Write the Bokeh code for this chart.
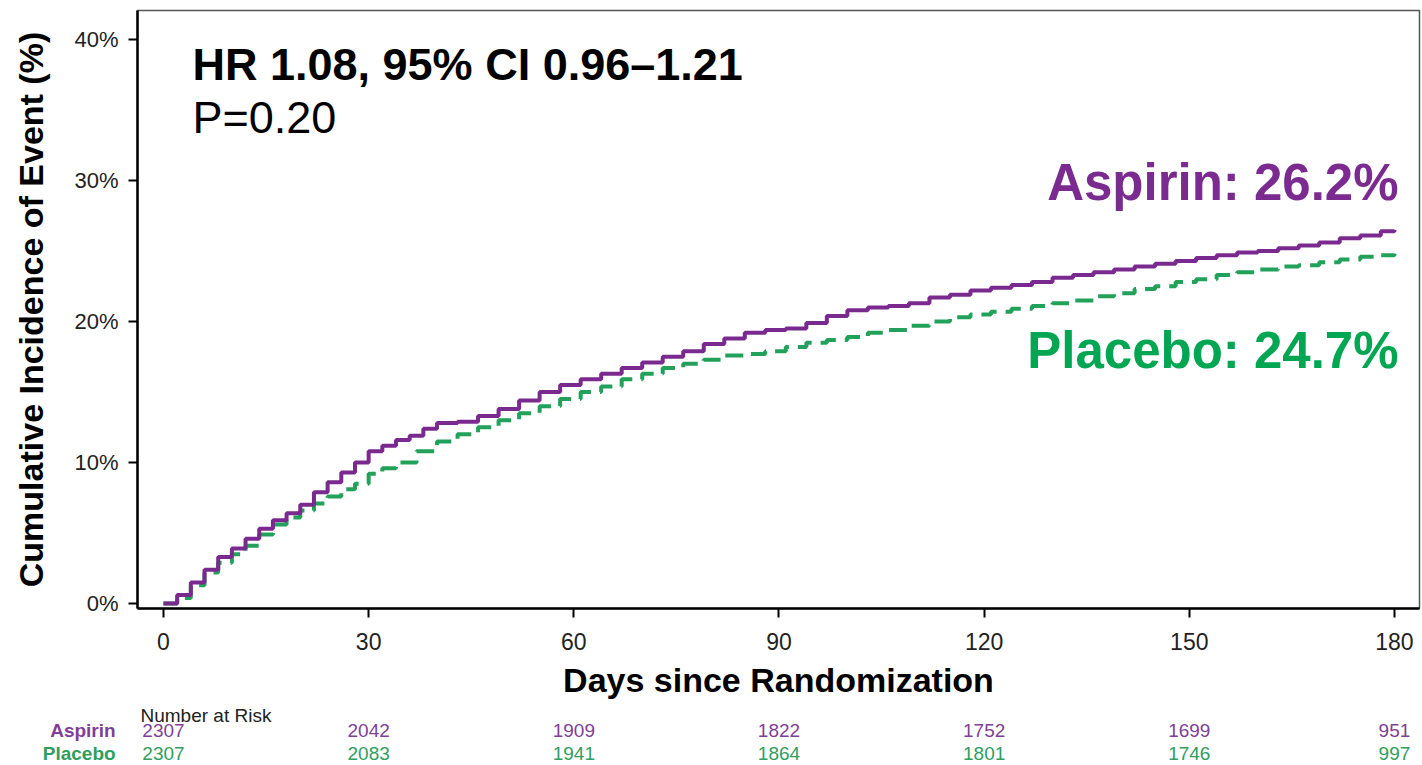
from bokeh.plotting import figure
from bokeh.layouts import column
from bokeh.models import Range1d, FixedTicker, PrintfTickFormatter, Label, ColumnDataSource
from bokeh.core.properties import value
from bokeh.embed import file_html
from bokeh.resources import INLINE

# ---------------- data ----------------
days_aspirin = [0, 2, 4, 6, 8, 10, 12, 14, 16, 18, 20, 22, 24, 26, 28, 30, 32, 34, 36, 38, 40,
                43, 46, 49, 52, 55, 58, 61, 64, 67, 70, 73, 76, 79, 82, 85, 88, 91, 94, 97,
                100, 103, 106, 109, 112, 115, 118, 121, 124, 127, 130, 133, 136, 139, 142,
                145, 148, 151, 154, 157, 160, 163, 166, 169, 172, 175, 178, 180]
inc_aspirin = [0.0, 0.6, 1.5, 2.4, 3.3, 3.9, 4.6, 5.3, 5.9, 6.4, 7.0, 7.9, 8.6, 9.3, 10.0, 10.8,
               11.2, 11.6, 11.9, 12.4, 12.8, 12.9, 13.3, 13.8, 14.4, 15.0, 15.5, 15.9, 16.3,
               16.7, 17.1, 17.5, 17.9, 18.4, 18.8, 19.2, 19.4, 19.5, 19.9, 20.4, 20.8, 21.0,
               21.1, 21.3, 21.7, 21.9, 22.2, 22.4, 22.6, 22.8, 23.1, 23.3, 23.5, 23.7, 23.9,
               24.1, 24.3, 24.5, 24.7, 24.9, 25.0, 25.2, 25.4, 25.6, 25.9, 26.1, 26.4, 26.5]

days_placebo = [0, 2, 4, 6, 8, 10, 12, 14, 16, 18, 20, 22, 24, 26, 28, 30, 32, 34, 37, 40, 43,
                46, 49, 52, 55, 58, 61, 64, 67, 70, 73, 76, 79, 82, 85, 88, 91, 94, 97, 100,
                103, 106, 109, 112, 115, 118, 121, 124, 127, 130, 133, 136, 139, 142, 145,
                148, 151, 154, 157, 160, 163, 166, 169, 172, 175, 178, 180]
inc_placebo = [0.0, 0.4, 1.3, 2.2, 2.9, 3.5, 4.1, 4.9, 5.6, 6.1, 6.6, 7.1, 7.6, 8.1, 8.5, 9.2,
               9.6, 10.0, 10.8, 11.5, 12.0, 12.5, 13.0, 13.5, 14.0, 14.5, 15.0, 15.4, 15.9,
               16.3, 16.7, 17.0, 17.3, 17.6, 17.7, 17.9, 18.2, 18.5, 18.7, 18.9, 19.2, 19.4,
               19.7, 20.0, 20.3, 20.5, 20.7, 20.9, 21.1, 21.3, 21.5, 21.8, 22.0, 22.3, 22.5,
               22.8, 23.0, 23.3, 23.5, 23.7, 23.9, 24.0, 24.2, 24.4, 24.6, 24.7, 24.8]

x_ticks = [0, 30, 60, 90, 120, 150, 180]
y_ticks = [0, 10, 20, 30, 40]
risk_aspirin = [2307, 2042, 1909, 1822, 1752, 1699, 951]
risk_placebo = [2307, 2083, 1941, 1864, 1801, 1746, 997]

hr_text = "HR 1.08, 95% CI 0.96\u20131.21"
p_text = "P=0.20"
aspirin_text = "Aspirin: 26.2%"
placebo_text = "Placebo: 24.7%"

# ---------------- styling ----------------
FONT = "Liberation Sans"
PURPLE = "#7A2A8E"
GREEN = "#22A15A"
PURPLE_T = "#7F3F98"
GREEN_T = "#2F9E5F"

W = 1422
BORDER_L, BORDER_R, BORDER_T = 137, 3, 10
FRAME_H = 598
MAIN_H = 704
TABLE_H = 765 - MAIN_H
X0, X1 = -3.8, 183.66

p = figure(width=W, height=MAIN_H, output_backend="svg", toolbar_location=None,
           x_range=Range1d(X0, X1), y_range=Range1d(-0.35, 42.06),
           min_border_left=BORDER_L, min_border_right=BORDER_R, min_border_top=BORDER_T,
           min_border_bottom=MAIN_H - BORDER_T - FRAME_H)
p.frame_align = False

p.grid.visible = False
p.background_fill_color = "white"
p.border_fill_color = "white"
p.outline_line_color = "#555555"
p.outline_line_width = 1.5

for ax in (p.xaxis[0], p.yaxis[0]):
    ax.axis_line_color = "black"
    ax.axis_line_width = 2.5
    ax.major_tick_line_color = "black"
    ax.major_tick_line_width = 2
    ax.major_tick_out = 9
    ax.major_tick_in = 0
    ax.minor_tick_line_color = None
    ax.major_label_text_font = FONT
    ax.major_label_text_color = "#222222"
    ax.axis_label_text_font = FONT
    ax.axis_label_text_font_style = "bold"
    ax.axis_label_text_color = "black"

p.xaxis.ticker = FixedTicker(ticks=x_ticks)
p.xaxis.major_label_text_font_size = "23px"
p.xaxis.major_label_standoff = 15
p.xaxis.axis_label = "Days since Randomization"
p.xaxis.axis_label_text_font_size = "34px"
p.xaxis.axis_label_standoff = 8

p.yaxis.ticker = FixedTicker(ticks=y_ticks)
p.yaxis.formatter = PrintfTickFormatter(format="%d%%")
p.yaxis.major_label_text_font_size = "22px"
p.yaxis.major_label_standoff = 10
p.yaxis.axis_label = "Cumulative Incidence of Event (%)"
p.yaxis.axis_label_text_font_size = "34px"
p.yaxis.axis_label_standoff = 21

# curves
p.step(days_placebo, inc_placebo, mode="after", line_color=GREEN, line_width=4,
       line_dash="18 9")
p.step(days_aspirin, inc_aspirin, mode="after", line_color=PURPLE, line_width=4)

# annotations inside the plot
p.add_layout(Label(x=4.24, y=38.25, text=hr_text, text_font=FONT, text_font_size="45px",
                   text_font_style="bold", text_color="black", text_baseline="alphabetic"))
p.add_layout(Label(x=4.24, y=34.5, text=p_text, text_font=FONT, text_font_size="45px",
                   text_color="black", text_baseline="alphabetic"))
p.add_layout(Label(x=180.6, y=29.85, text=aspirin_text, text_font=FONT, text_font_size="51px",
                   text_font_style="bold", text_color="#7B2A90", text_align="right",
                   text_baseline="alphabetic"))
p.add_layout(Label(x=180.6, y=17.95, text=placebo_text, text_font=FONT, text_font_size="51px",
                   text_font_style="bold", text_color="#00A651", text_align="right",
                   text_baseline="alphabetic"))

# ---------------- number at risk table (second figure, same day scale) ----------------
frame_w = W - BORDER_L - BORDER_R
px_per_day = frame_w / (X1 - X0)
t_x0 = X0 - BORDER_L / px_per_day
t_x1 = X1 + BORDER_R / px_per_day

t = figure(width=W, height=TABLE_H, output_backend="svg", toolbar_location=None,
           x_range=Range1d(t_x0, t_x1), y_range=Range1d(TABLE_H, 0),
           x_axis_type=None, y_axis_type=None,
           min_border_left=0, min_border_right=0, min_border_top=0, min_border_bottom=0)
t.frame_align = False
t.grid.visible = False
t.outline_line_color = None
t.background_fill_color = "white"
t.border_fill_color = "white"

ROW_HEAD, ROW_A, ROW_P = 11, 26, 49
head_x = -3.36
lab_x = -7.0

t.text(x=[head_x], y=[ROW_HEAD], text=["Number at Risk"], text_font=value(FONT),
       text_font_size="19px", text_color="#222222", text_baseline="alphabetic",
       text_align="left")
t.text(x=[lab_x], y=[ROW_A], text=["Aspirin"], text_font=value(FONT), text_font_size="19px",
       text_font_style="bold", text_color=PURPLE_T, text_align="right",
       text_baseline="alphabetic")
t.text(x=[lab_x], y=[ROW_P], text=["Placebo"], text_font=value(FONT), text_font_size="19px",
       text_font_style="bold", text_color=GREEN_T, text_align="right",
       text_baseline="alphabetic")

src_a = ColumnDataSource(dict(x=x_ticks, y=[ROW_A] * len(x_ticks),
                              t=[str(v) for v in risk_aspirin]))
src_p = ColumnDataSource(dict(x=x_ticks, y=[ROW_P] * len(x_ticks),
                              t=[str(v) for v in risk_placebo]))
t.text(x="x", y="y", text="t", source=src_a, text_font=value(FONT), text_font_size="19px",
       text_color=PURPLE_T, text_align="center", text_baseline="alphabetic")
t.text(x="x", y="y", text="t", source=src_p, text_font=value(FONT), text_font_size="19px",
       text_color=GREEN_T, text_align="center", text_baseline="alphabetic")

layout = column(p, t, spacing=0)
open("out.html", "w").write(file_html(layout, INLINE))
